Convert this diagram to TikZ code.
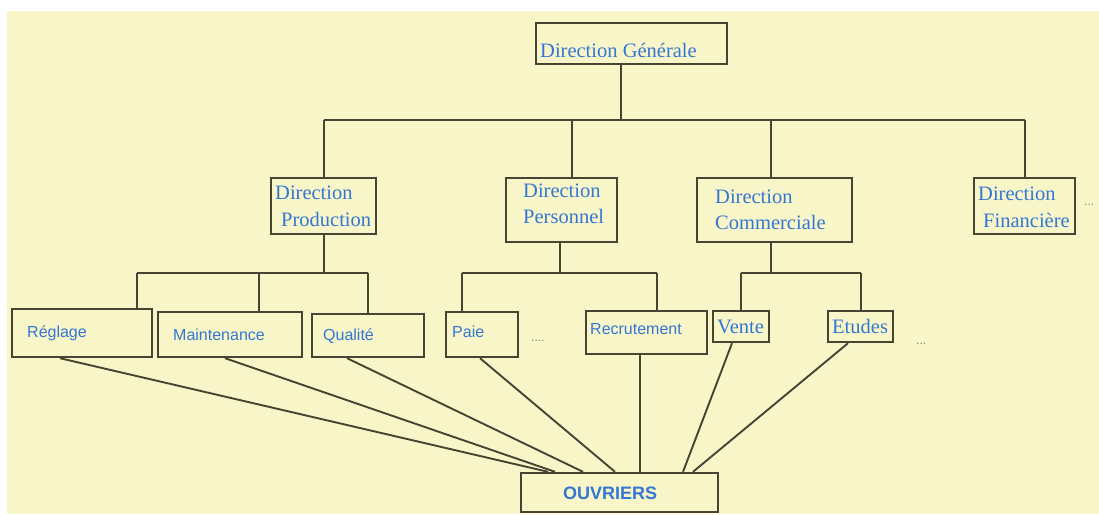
\documentclass[tikz,border=0pt]{standalone}
\usepackage{fontspec}
\setmainfont{Liberation Serif}
\newfontfamily\labelsans{Liberation Sans}
\definecolor{paper}{RGB}{248,246,200}
\definecolor{ink}{RGB}{72,68,50}
\definecolor{labelblue}{RGB}{52,118,212}
\definecolor{dotgray}{RGB}{130,130,120}
\tikzset{
  unitbox/.style={draw=ink, line width=2.4pt, inner sep=0pt, line join=miter},
  link/.style={draw=ink, line width=1.9pt},
  serlabel/.style={anchor=base west, inner sep=0pt, text=labelblue, font=\fontsize{20.5}{24}\selectfont},
  sanslabel/.style={anchor=base west, inner sep=0pt, text=labelblue, font=\labelsans\fontsize{16}{19}\selectfont},
  boldlabel/.style={anchor=base west, inner sep=0pt, text=labelblue, font=\labelsans\bfseries\fontsize{18}{21}\selectfont},
  morelabel/.style={anchor=base west, inner sep=0pt, text=dotgray, font=\labelsans\fontsize{12}{14}\selectfont},
}
\begin{document}
\begin{tikzpicture}[x=1pt,y=-1pt]
\useasboundingbox (0,0) rectangle (1099,514);
\fill[white] (0,0) rectangle (1099,514);
\fill[paper] (7,11) rectangle (1099,514);

% --- boxes ---
\node[unitbox, minimum width=191pt, minimum height=41pt] (dg) at (631.5,43.5) {};
\node[unitbox, minimum width=105pt, minimum height=56pt] (dprod) at (323.5,206) {};
\node[unitbox, minimum width=111pt, minimum height=64pt] (dpers) at (561.5,210) {};
\node[unitbox, minimum width=155pt, minimum height=64pt] (dcom) at (774.5,210) {};
\node[unitbox, minimum width=101pt, minimum height=56pt] (dfin) at (1024.5,206) {};

\node[unitbox, minimum width=140pt, minimum height=48pt] (reg) at (82,333) {};
\node[unitbox, minimum width=144pt, minimum height=45pt] (maint) at (230,334.5) {};
\node[unitbox, minimum width=112pt, minimum height=43pt] (qual) at (368,335.5) {};
\node[unitbox, minimum width=72pt, minimum height=45pt] (paie) at (482,334.5) {};
\node[unitbox, minimum width=121pt, minimum height=43pt] (recr) at (646.5,332.5) {};
\node[unitbox, minimum width=56pt, minimum height=31pt] (vente) at (741,326.5) {};
\node[unitbox, minimum width=65pt, minimum height=31pt] (etudes) at (860.5,326.5) {};

\node[unitbox, minimum width=197pt, minimum height=39pt] (ouv) at (619.5,492.5) {};

% --- labels ---
\node[serlabel] (tdg) at (540,57) {Direction Générale};
\node[serlabel] (tprod1) at (275,199) {Direction};
\node[serlabel] (tprod2) at (281,226) {Production};
\node[serlabel] (tpers1) at (523,197) {Direction};
\node[serlabel] (tpers2) at (523,223) {Personnel};
\node[serlabel] (tcom1) at (715,203) {Direction};
\node[serlabel] (tcom2) at (715,229) {Commerciale};
\node[serlabel] (tfin1) at (978,200) {Direction};
\node[serlabel] (tfin2) at (983,227) {Financière};

\node[sanslabel] (treg) at (27,337) {Réglage};
\node[sanslabel] (tmaint) at (173,340) {Maintenance};
\node[sanslabel] (tqual) at (323,340) {Qualité};
\node[sanslabel] (tpaie) at (452,337) {Paie};
\node[sanslabel] (trecr) at (590,334) {Recrutement};
\node[serlabel] (tvente) at (717,333) {Vente};
\node[serlabel] (tetudes) at (832,333) {Etudes};
\node[boldlabel] (touv) at (563,499) {OUVRIERS};

\node[morelabel] (m1) at (531,341) {....};
\node[morelabel] (m2) at (916,344) {...};
\node[morelabel] (m3) at (1084,205) {...};

% --- top level bus ---
\coordinate (bus1) at (621,120);
\coordinate (b1a) at (324,120);
\coordinate (b1b) at (572,120);
\coordinate (b1c) at (771,120);
\coordinate (b1d) at (1025,120);
\draw[link] (dg.south -| bus1) -- (bus1);
\draw[link] (b1a) -- (b1d);
\draw[link] (b1a) -- (b1a |- dprod.north);
\draw[link] (b1b) -- (b1b |- dpers.north);
\draw[link] (b1c) -- (b1c |- dcom.north);
\draw[link] (b1d) -- (b1d |- dfin.north);

% --- production branch ---
\coordinate (p0) at (324,273);
\coordinate (p1) at (137,273);
\coordinate (p2) at (259,273);
\coordinate (p3) at (368,273);
\draw[link] (dprod.south -| p0) -- (p0);
\draw[link] (p1) -- (p3);
\draw[link] (p1) -- (p1 |- reg.north);
\draw[link] (p2) -- (p2 |- maint.north);
\draw[link] (p3) -- (p3 |- qual.north);

% --- personnel branch ---
\coordinate (q0) at (560,273);
\coordinate (q1) at (462,273);
\coordinate (q2) at (657,273);
\draw[link] (dpers.south -| q0) -- (q0);
\draw[link] (q1) -- (q2);
\draw[link] (q1) -- (q1 |- paie.north);
\draw[link] (q2) -- (q2 |- recr.north);

% --- commercial branch ---
\coordinate (c0) at (771,273);
\coordinate (c1) at (741,273);
\coordinate (c2) at (861,273);
\draw[link] (dcom.south -| c0) -- (c0);
\draw[link] (c1) -- (c2);
\draw[link] (c1) -- (c1 |- vente.north);
\draw[link] (c2) -- (c2 |- etudes.north);

% --- links down to the workers ---
\draw[link] ([xshift=-22pt]reg.south) -- ([xshift=-71.5pt]ouv.north);
\draw[link] ([xshift=-5pt]maint.south) -- ([xshift=-64.5pt]ouv.north);
\draw[link] ([xshift=-21pt]qual.south) -- ([xshift=-36.5pt]ouv.north);
\draw[link] ([xshift=-2pt]paie.south) -- ([xshift=-4.5pt]ouv.north);
\draw[link] ([xshift=-6.5pt]recr.south) -- ([xshift=20.5pt]ouv.north);
\draw[link] ([xshift=-9pt]vente.south) -- ([xshift=63.5pt]ouv.north);
\draw[link] ([xshift=-12.5pt]etudes.south) -- ([xshift=73.5pt]ouv.north);
\end{tikzpicture}
\end{document}
